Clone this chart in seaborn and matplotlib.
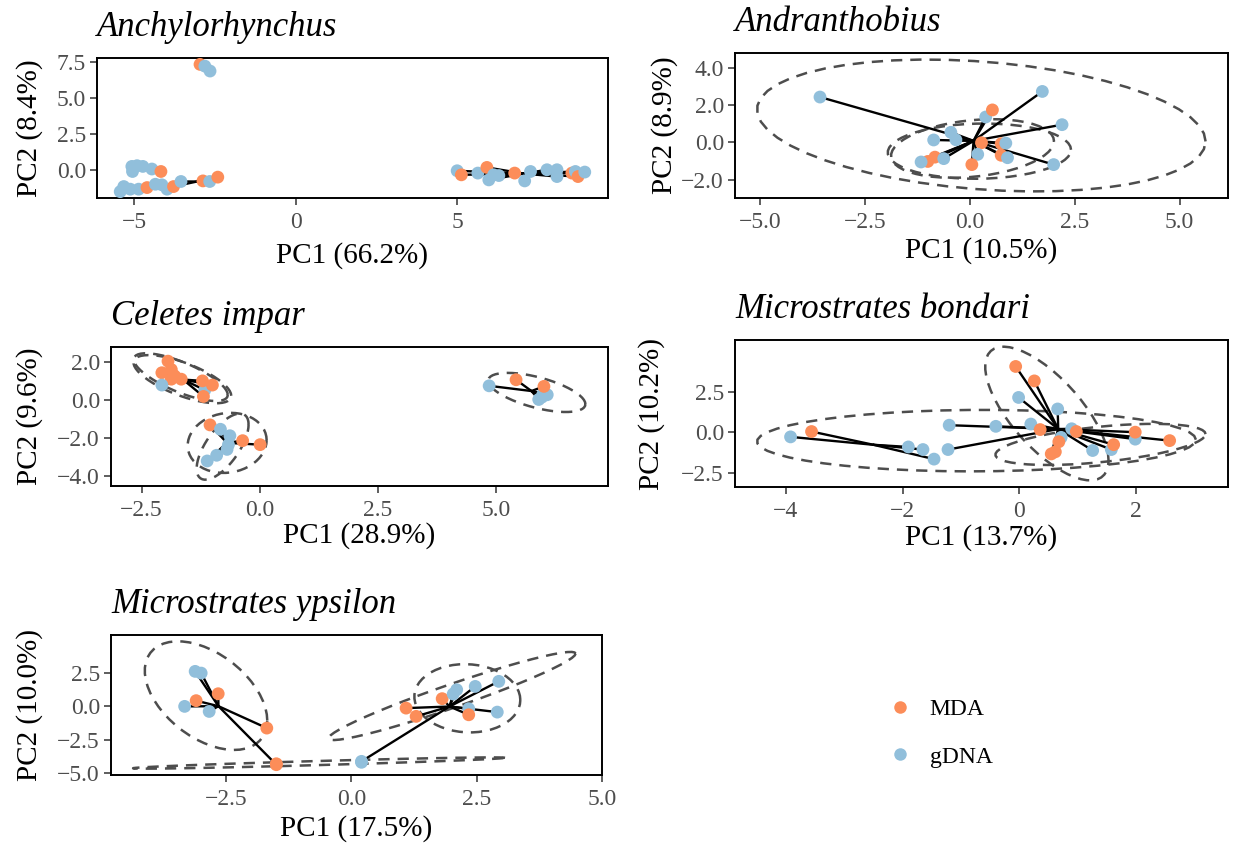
import numpy as np
import pandas as pd
import seaborn as sns
import matplotlib.pyplot as plt
from matplotlib.lines import Line2D

# ---------------- data ----------------
# dna codes: M = MDA, G = gDNA ; grp = group used for the centroid spokes
anch_pc1 = [-2.97, -2.82, -2.66,
            -5.08, -4.92, -4.74, -4.46, -4.18, -5.06,
            -5.44, -5.33, -5.13, -4.87, -4.61, -4.35, -4.15, -3.99,
            -3.79, -3.56, -2.88, -2.67, -2.42,
            4.99, 5.12, 5.63, 5.91, 5.97, 6.12, 6.28, 6.77, 7.08, 7.26, 7.77,
            8.08, 8.08, 8.54, 8.65, 8.73, 8.94]
anch_pc2 = [7.32, 7.20, 6.86,
            0.28, 0.33, 0.28, 0.10, -0.07, -0.07,
            -1.46, -1.11, -1.29, -1.29, -1.18, -0.95, -0.99, -1.29,
            -1.11, -0.76, -0.72, -0.76, -0.46,
            -0.02, -0.30, -0.18, 0.21, -0.65, -0.30, -0.35, -0.18, -0.72, -0.07, 0.05,
            0.05, -0.42, -0.18, -0.07, -0.42, -0.11]
anch_dna = "MGG" + "GGGGMG" + "GGGGMGGG" + "MGMGM" + "GMGMGGGMGGGGGMGMG"
anch_grp = "AAA" + "B" * 6 + "C" * 8 + "D" * 5 + "E" * 17
anch_ell = []
anch_xticks = ["−5", "0", "5"]
anch_yticks = ["0.0", "2.5", "5.0", "7.5"]

andr_pc1 = [-3.57, 1.73, 2.20, 2.00, 0.38, 0.54, -0.45, -0.86, -0.33, 0.28,
            0.75, 0.86, 0.19, 0.75, 0.90, 0.05, -0.83, -1.00, -0.62, -1.16]
andr_pc2 = [2.42, 2.72, 0.94, -1.20, 1.35, 1.73, 0.53, 0.12, 0.13, -0.03,
            -0.08, -0.05, -0.65, -0.70, -0.83, -1.20, -0.80, -1.03, -0.88, -1.06]
andr_dna = "GGGGGMGGGMMGGMGMMMGG"
andr_grp = "A" * 20
andr_ell = [[0, 1, 2, 3, 4, 6, 7], [9, 10, 13, 15, 16, 17, 6, 8, 11],
            [8, 11, 12, 14, 18]]
andr_xticks = ["−5.0", "−2.5", "0.0", "2.5", "5.0"]
andr_yticks = ["−2.0", "0.0", "2.0", "4.0"]

cele_pc1 = [-1.94, -2.07, -1.87, -1.80, -1.66, -1.87, -2.07, -1.16, -1.21, -1.00, -1.19,
            -1.05, -0.83, -0.63, -0.66, -0.69, -0.36, 0.01, -0.91, -1.11,
            4.86, 5.43, 5.98, 6.00, 5.91, 6.09, 6.02]
cele_pc2 = [2.07, 1.46, 1.63, 1.29, 1.12, 1.12, 0.81, 0.55, 1.03, 0.81, 0.21,
            -1.29, -1.52, -1.86, -2.33, -2.58, -2.12, -2.33, -2.89, -3.19,
            0.77, 1.09, 0.18, 0.34, 0.05, 0.30, 0.74]
cele_dna = "MMMMMMGGMMM" + "MGGGGMMGG" + "GMGGGGM"
cele_grp = "A" * 11 + "B" * 9 + "C" * 7
cele_ell = [list(range(0, 11)), [0, 1, 2, 3, 4, 5, 8, 9, 10],
            list(range(11, 20)), [12, 13, 14, 15, 18, 19], list(range(20, 27))]
cele_xticks = ["−2.5", "0.0", "2.5", "5.0"]
cele_yticks = ["−4.0", "−2.0", "0.0", "2.0"]

bond_pc1 = [-3.92, -3.56, -1.90, -1.65, -1.46,
            -0.06, 0.26, -0.01, 0.66, -1.20, -0.40, 0.20, 0.36, 0.90, 0.98, 0.72,
            0.68, 0.62, 0.55, 1.26, 1.58, 1.62, 1.99, 1.99, 2.58, -1.22]
bond_pc2 = [-0.29, 0.04, -0.91, -1.07, -1.66,
            4.05, 3.16, 2.14, 1.43, 0.43, 0.36, 0.50, 0.16, 0.21, 0.04, -0.32,
            -0.59, -1.21, -1.34, -1.13, -1.07, -0.77, -0.43, 0.00, -0.52, -1.07]
bond_dna = "GMGGG" + "MMGGGGGMGMGMMMGGMGMMG"
bond_grp = "L" * 5 + "A" * 21
bond_ell = [[0, 1, 2, 3, 4, 9, 10, 25, 11, 12, 15, 16, 17, 18],
            [5, 6, 7, 8, 11, 13, 15, 12, 14],
            [14, 16, 17, 18, 19, 20, 21, 22, 23, 24]]
bond_xticks = ["−4", "−2", "0", "2"]
bond_yticks = ["−2.5", "0.0", "2.5"]

# first two samples sit right under the orange / blue dots near PC2 = -4.3
ypsi_pc1 = [-1.50, 0.20,
            -3.12, -3.00, -3.33, -3.10, -2.66, -2.84, -1.69, -1.50,
            1.09, 1.29, 1.81, 2.03, 2.10, 2.47, 2.94, 2.34, 2.34, 2.91, 0.20]
ypsi_pc2 = [-4.31, -4.20,
            2.63, 2.50, 0.00, 0.43, 0.95, -0.38, -1.63, -4.38,
            -0.13, -0.75, 0.58, 0.93, 1.25, 1.50, 1.88, -0.18, -0.63, -0.43, -4.13]
ypsi_dna = "MG" + "GGGMMGMM" + "MMMGGGGGMGG"
ypsi_grp = "XY" + "A" * 8 + "B" * 11
ypsi_ell = [[2, 3, 4, 5, 6, 7, 8], [12, 13, 14, 15, 16, 17, 18, 19],
            [10, 11, 12, 15, 16], [0, 1, 9, 20]]
ypsi_xticks = ["−2.5", "0.0", "2.5", "5.0"]
ypsi_yticks = ["−5.0", "−2.5", "0.0", "2.5"]

dna_names = {"M": "MDA", "G": "gDNA"}
palette = {"MDA": "#FC8D59", "gDNA": "#91BFDB"}

W, H = 1245, 843
# panel box (left, top, right, bottom) in px, x-label centre y, y-label centre x
panels = [
    ("Anchylorhynchus", anch_pc1, anch_pc2, anch_dna, anch_grp, anch_ell,
     "PC1 (66.2%)", "PC2 (8.4%)", anch_xticks, anch_yticks, (97, 58, 608, 198), 256, 30),
    ("Andranthobius", andr_pc1, andr_pc2, andr_dna, andr_grp, andr_ell,
     "PC1 (10.5%)", "PC2 (8.9%)", andr_xticks, andr_yticks, (735, 53, 1228, 198), 251, 665),
    ("Celetes impar", cele_pc1, cele_pc2, cele_dna, cele_grp, cele_ell,
     "PC1 (28.9%)", "PC2 (9.6%)", cele_xticks, cele_yticks, (111, 347, 608, 486), 536, 30),
    ("Microstrates bondari", bond_pc1, bond_pc2, bond_dna, bond_grp, bond_ell,
     "PC1 (13.7%)", "PC2 (10.2%)", bond_xticks, bond_yticks, (735, 340, 1228, 487), 538, 652),
    ("Microstrates ypsilon", ypsi_pc1, ypsi_pc2, ypsi_dna, ypsi_grp, ypsi_ell,
     "PC1 (17.5%)", "PC2 (10.0%)", ypsi_xticks, ypsi_yticks, (111, 635, 602, 775), 829, 30),
]


def cov_trob(xy, nu=5, maxit=25, tol=0.01):
    # port of MASS::cov.trob (what ggplot's stat_ellipse uses)
    n, p = xy.shape
    loc = xy.mean(axis=0)
    w = np.ones(n)
    for _ in range(maxit):
        w0 = w
        X = xy - loc
        _, d, vt = np.linalg.svd(np.sqrt(w / w.sum())[:, None] * X, full_matrices=False)
        wX = X @ vt.T / d
        Q = (wX ** 2).sum(axis=1)
        w = (nu + p) / (nu + Q)
        loc = (w[:, None] * xy).sum(axis=0) / w.sum()
        if np.all(np.abs(w - w0) < tol):
            break
    sX = np.sqrt(w)[:, None] * X
    return loc, sX.T @ sX / n


def stat_ellipse(xy, level=0.95, segments=51):
    center, shape = cov_trob(xy)
    dfd = len(xy) - 1
    qf = dfd / 2 * ((1 - level) ** (-2 / dfd) - 1)
    radius = np.sqrt(2 * qf)
    ang = np.arange(segments + 1) * 2 * np.pi / segments
    circ = np.column_stack([np.cos(ang), np.sin(ang)])
    pts = center + radius * circ @ np.linalg.cholesky(shape).T
    return pts[:, 0], pts[:, 1]


sns.set_theme(style="white")
plt.rcParams["font.family"] = ["Liberation Serif", "DejaVu Serif"]
plt.rcParams["text.color"] = "black"
plt.rcParams["axes.labelcolor"] = "black"

fig = plt.figure(figsize=(W / 100, H / 100), dpi=100)

for title, pc1, pc2, dna, grp, ells, xlab, ylab, xt, yt, box, xl_y, yl_x in panels:
    l, t, r, b = box
    ax = fig.add_axes([l / W, 1 - b / H, (r - l) / W, (b - t) / H])
    df = pd.DataFrame({"pc1": pc1, "pc2": pc2,
                       "dna": [dna_names[c] for c in dna], "grp": list(grp)})
    xy = df[["pc1", "pc2"]].to_numpy()

    for idx in ells:
        ex, ey = stat_ellipse(xy[idx])
        ax.plot(ex, ey, color="#4d4d4d", lw=1.8, dashes=(4.5, 3.2), zorder=1)

    for g, sub in df.groupby("grp"):
        cx, cy = sub.pc1.mean(), sub.pc2.mean()
        for x, y in zip(sub.pc1, sub.pc2):
            ax.plot([cx, x], [cy, y], color="black", lw=1.7, zorder=2)

    sns.scatterplot(data=df, x="pc1", y="pc2", hue="dna", palette=palette,
                    s=85, linewidth=0, legend=False, ax=ax, zorder=3)

    ax.set_xticks([float(v.replace("−", "-")) for v in xt], xt)
    ax.set_yticks([float(v.replace("−", "-")) for v in yt], yt)
    ax.tick_params(bottom=True, left=True, direction="out", length=5, width=1.1,
                   color="#333333", labelcolor="#4d4d4d", labelsize=17)
    ax.tick_params(axis="x", pad=5)
    ax.tick_params(axis="y", pad=3)
    for s in ax.spines.values():
        s.set_color("black")
        s.set_linewidth(1.4)
    ax.set_xlabel(xlab, fontsize=21, va="center")
    ax.set_ylabel(ylab, fontsize=21, va="center")
    ax.xaxis.set_label_coords(0.5, (b - xl_y) / (b - t))
    ax.yaxis.set_label_coords((yl_x - l) / (r - l), 0.5)
    ax.set_title(title, loc="left", fontsize=25, fontstyle="italic", pad=16)

handles = [Line2D([0], [0], marker="o", ls="none", markersize=9,
                  markerfacecolor=palette[k], markeredgewidth=0) for k in palette]
fig.legend(handles, list(palette), loc="center left",
           bbox_to_anchor=(888 / W, 1 - 733 / H), frameon=False, fontsize=17,
           handlelength=1.0, handletextpad=0.77, labelspacing=1.12,
           borderpad=0, borderaxespad=0)

fig.savefig("out.png", dpi=100)
